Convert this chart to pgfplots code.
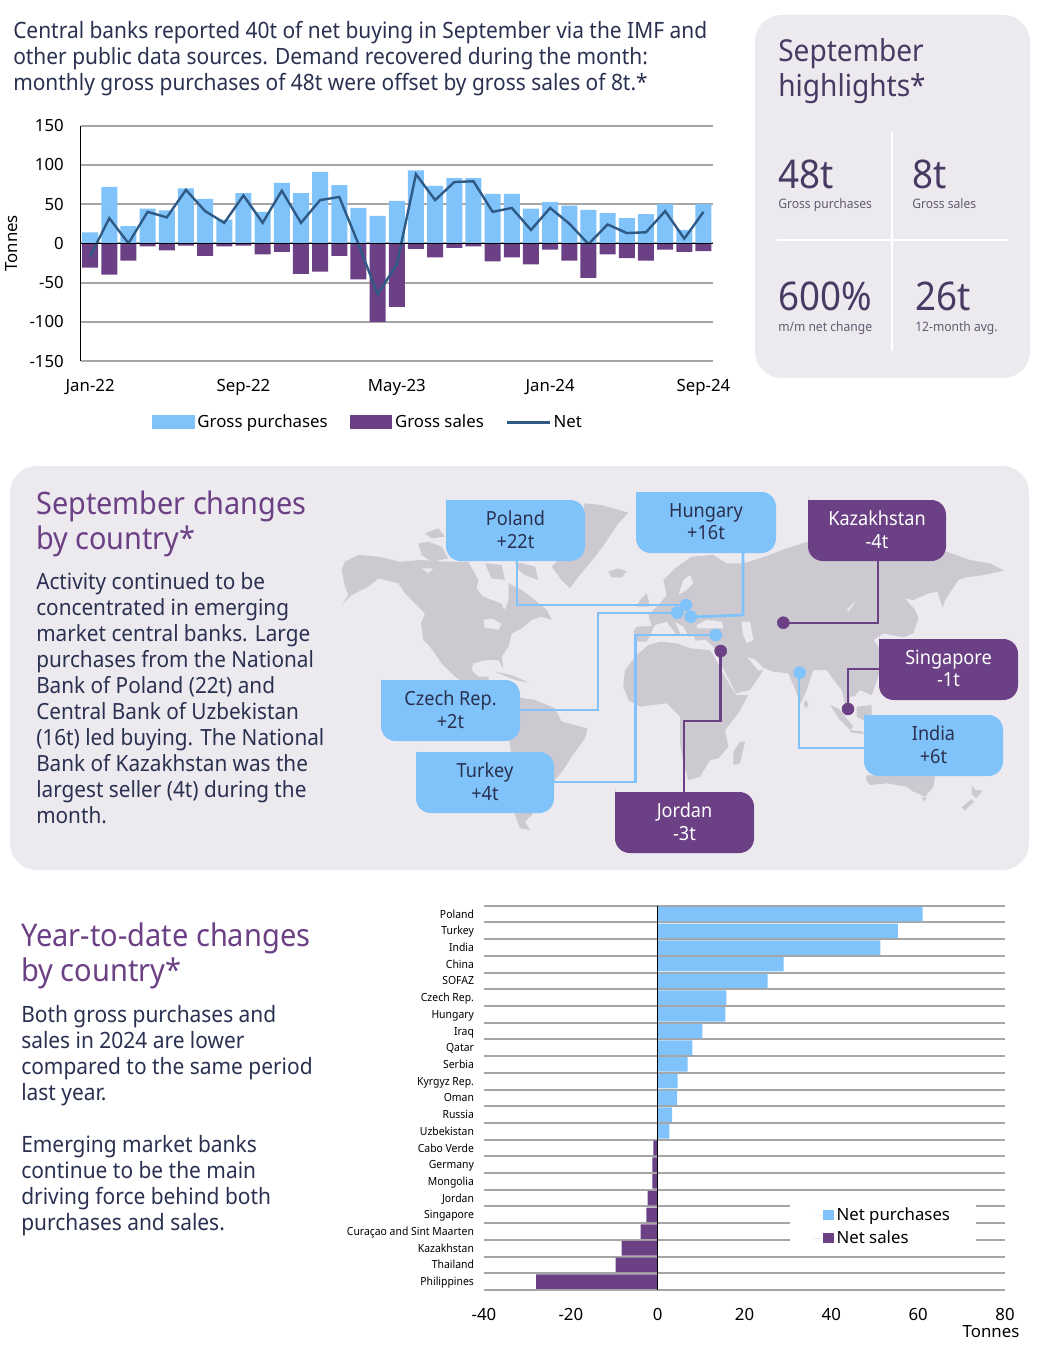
\documentclass[border=0pt]{standalone}
\usepackage{pgfplots}
\pgfplotsset{compat=1.18}
\usepackage{fontspec}
\setmainfont{Noto Sans}
\newfontfamily\lt{Noto Sans}[FakeStretch=0.93]
\definecolor{buy}{HTML}{7FC3FA}
\definecolor{sell}{HTML}{6B4085}
\definecolor{netline}{HTML}{2F5A85}
\definecolor{panel}{HTML}{ECE9EF}
\definecolor{land}{HTML}{CDC9D1}
\definecolor{gridg}{HTML}{A6A6A6}
\definecolor{ink}{HTML}{2A3050}
\definecolor{dk}{HTML}{483A63}
\definecolor{sm}{HTML}{625C70}
% text at page pixels: x, baseline y, size in px, colour, text
\newcommand\T[5]{\pgfmathsetmacro\fs{#3*0.75}\node[anchor=base west,inner sep=0pt,text=#4,font={\lt\fontsize{\fs}{\fs}\selectfont}] at (#1,#2) {#5};}
% callout box: left, top, right, bottom, fill, text colour, line1, line2
\newcommand\B[8]{\fill[#5,rounded corners=11] (#1,#2) [sharp corners] -- (#3-12,#2) [rounded corners=11] -- (#3,#2) -- (#3,#4) -- (#1,#4) -- (#1,#2+11) [sharp corners] -- (#1,#2) -- cycle;
\node[text=#6,align=center,inner sep=0pt,font={\lt\fontsize{14.6}{16.8}\selectfont}] at ({(#1+#3)/2},{(#2+#4)/2-1}) {#7\\#8};}
\begin{document}
\begin{tikzpicture}[x=0.75pt,y=-0.75pt]
\path[use as bounding box] (0,0) rectangle (1038,1352);
\fill[panel,rounded corners=20] (755,15) rectangle (1030,378);
\fill[panel,rounded corners=20] (10,466) rectangle (1029,870);

% top text
\T{13}{39}{22.5}{ink}{Central banks reported 40t of net buying in September via the IMF and}
\T{13}{65}{22.5}{ink}{other public data sources. Demand recovered during the month:}
\T{13}{91}{22.5}{ink}{monthly gross purchases of 48t were offset by gross sales of 8t.*}

% highlights
\T{778}{62}{30.2}{dk}{September}
\T{778}{97}{30.2}{dk}{highlights*}
\T{778}{188}{39.5}{dk}{48t}
\T{912}{188}{39.5}{dk}{8t}
\T{778}{208}{13}{sm}{Gross purchases}
\T{912}{208}{13}{sm}{Gross sales}
\T{778}{310}{39.5}{dk}{600\%}
\T{915}{310}{39.5}{dk}{26t}
\T{778}{331}{13}{sm}{m/m net change}
\T{915}{331}{13}{sm}{12-month avg.}
\draw[white,line width=1.5pt] (891.7,132) -- (891.7,351);
\draw[white,line width=1.5pt] (777,239.7) -- (1008,239.7);

% monthly chart
\begin{axis}[
  at={(60.4pt,-270.75pt)},anchor=south west,
  scale only axis,width=474.4pt,height=176.6pt,
  xmin=-0.5,xmax=32.5,ymin=-150,ymax=150,
  xtick={0,8,16,24,32},
  xticklabels={Jan-22,Sep-22,May-23,Jan-24,Sep-24},
  ytick={-150,-100,-50,0,50,100,150},
  /pgf/number format/assume math mode=true,
  ymajorgrids,
  grid style={gridg,line width=1.5pt},
  axis x line*=bottom,axis y line*=left,
  x axis line style={draw=none},
  y axis line style={black,line width=0.6pt,-},
  tick style={draw=none},
  ticklabel style={font=\fontsize{12.6}{14}\selectfont,text=black},
  xticklabel style={yshift=-10pt},
  yticklabel style={xshift=-9pt},
  ylabel={Tonnes},
  ylabel shift=2pt,
  ylabel style={font=\fontsize{12.6}{14}\selectfont},
  legend columns=3,
  legend cell align=left,
  legend style={at={(0.1128,-0.217)},anchor=north west,draw=none,fill=none,inner sep=0pt,
    font=\fontsize{12.6}{14}\selectfont,
    /tikz/every odd column/.append style={column sep=0pt},
    /tikz/every even column/.append style={column sep=14.5pt}},
]
\addplot[ybar,bar shift=0pt,bar width=12pt,fill=buy,draw=none,
  legend image code/.code={\fill[buy] (0pt,-5.2pt) rectangle (32pt,5.2pt);}] coordinates {
 (0,14)(1,72)(2,22)(3,44)(4,42)(5,70)(6,56.5)(7,30)(8,64)(9,40)(10,77)(11,64)(12,91)
 (13,74)(14,45)(15,35)(16,54)(17,93)(18,73)(19,83)(20,83)(21,63)(22,63)(23,44)(24,52.5)
 (25,48)(26,42.5)(27,38.5)(28,32)(29,37)(30,50)(31,17)(32,50)};
\addlegendentry{Gross purchases}
\addplot[ybar,bar shift=0pt,bar width=12pt,fill=sell,draw=none,
  legend image code/.code={\fill[sell] (0pt,-5.2pt) rectangle (32pt,5.2pt);}] coordinates {
 (0,-31)(1,-40)(2,-22)(3,-4)(4,-9)(5,-3)(6,-16)(7,-4)(8,-3)(9,-14)(10,-11)(11,-39)(12,-36)
 (13,-16)(14,-46)(15,-100)(16,-81)(17,-7)(18,-18)(19,-6)(20,-4)(21,-23)(22,-18)(23,-27)(24,-8)
 (25,-22)(26,-44)(27,-14)(28,-19)(29,-22)(30,-8)(31,-11)(32,-10)};
\addlegendentry{Gross sales}
\addplot[netline,line width=1.8pt,
  legend image code/.code={\draw[netline,line width=1.8pt] (0pt,0pt) -- (32pt,0pt);}] coordinates {
 (0,-17)(1,32)(2,0)(3,40)(4,33)(5,68)(6,41)(7,26)(8,61)(9,26)(10,67)(11,26)(12,55)
 (13,59)(14,-1)(15,-65)(16,-27)(17,88)(18,55)(19,78)(20,79)(21,40)(22,45)(23,17)(24,45)
 (25,25)(26,-1)(27,24)(28,13)(29,14)(30,41)(31,6)(32,40)};
\addlegendentry{Net}
\draw[black,line width=0.8pt] (axis cs:-0.5,0) -- (axis cs:32.5,0);
\end{axis}

% map, western half (crop coordinates, 3 units per pixel)
\begin{axis}[
  at={(251.25pt,-637.5pt)},anchor=south west,scale only axis,width=262.5pt,height=262.5pt,
  xmin=0,xmax=1050,ymin=0,ymax=1050,y dir=reverse,axis lines=none,clip=false,
  every axis plot/.append style={draw=none}]
\addplot[fill=land] coordinates {(20,210)(30,185)(70,165)(130,170)(195,185)(260,180)(330,185)(400,185)(430,240)(425,265)(445,290)(500,310)(510,330)(520,300)(520,250)(560,270)(600,300)(635,330)(650,360)(620,350)(590,360)(560,385)(530,400)(520,440)(500,470)(505,505)(490,480)(450,480)(415,490)(410,510)(430,530)(460,530)(465,560)(400,560)(360,530)(320,490)(285,440)(265,420)(258,370)(270,340)(240,310)(210,280)(190,250)(130,235)(100,260)(50,285)(20,315)(40,285)(30,260)(25,235)} --cycle;
\addplot[fill=panel] coordinates {(425,265)(440,240)(490,235)(520,250)(520,300)(505,325)(500,310)(445,290)} --cycle;
\addplot[fill=panel] coordinates {(445,360)(470,355)(500,372)(490,390)(470,385)(450,385)} --cycle;
\addplot[fill=panel] coordinates {(260,205)(295,205)(280,220)} --cycle;
\addplot[fill=land] coordinates {(250,130)(280,125)(320,140)(340,175)(290,185)(260,165)} --cycle;
\addplot[fill=land] coordinates {(270,100)(310,85)(330,110)(290,115)} --cycle;
\addplot[fill=land] coordinates {(450,190)(500,195)(510,240)(470,235)} --cycle;
\addplot[fill=land] coordinates {(540,185)(600,200)(610,240)(570,225)(545,205)} --cycle;
\addplot[fill=land] coordinates {(650,200)(670,180)(740,130)(748,10)(800,15)(880,38)(850,70)(810,130)(780,170)(730,230)(705,265)(680,240)} --cycle;
\addplot[fill=land] coordinates {(820,215)(850,205)(875,215)(860,232)(830,232)} --cycle;
\addplot[fill=land] coordinates {(540,590)(600,600)(660,625)(680,665)(757,685)(750,715)(710,770)(685,810)(660,840)(620,900)(590,945)(570,965)(585,990)(555,985)(540,945)(535,850)(525,730)(510,680)(520,620)} --cycle;
\addplot[fill=land] coordinates {(480,515)(530,525)(580,548)(540,540)} --cycle;
\addplot[fill=land] coordinates {(915,300)(935,280)(945,320)(905,320)} --cycle;
\end{axis}

% map, eastern half
\begin{axis}[
  at={(487.5pt,-637.5pt)},anchor=south west,scale only axis,width=277.5pt,height=262.5pt,
  xmin=0,xmax=1110,ymin=0,ymax=1050,y dir=reverse,axis lines=none,clip=false,
  every axis plot/.append style={draw=none}]
\addplot[fill=land] coordinates {(-50,395)(-40,380)(5,378)(-5,345)(30,310)(50,285)(40,240)(75,205)(125,170)(190,165)(230,190)(280,190)(330,175)(410,145)(475,125)(600,100)(890,155)(960,180)(1020,190)(1062,212)(1000,225)(950,232)(925,240)(885,300)(878,322)(862,275)(835,280)(790,300)(765,295)(795,330)(805,355)(790,400)(760,412)(700,400)(670,420)(692,450)(690,515)(665,585)(630,570)(612,590)(600,590)(597,630)(585,610)(575,570)(555,545)(530,510)(490,510)(470,570)(452,612)(432,560)(415,520)(370,515)(340,503)(315,478)(290,470)(325,512)(340,510)(300,570)(258,580)(225,515)(200,465)(190,440)(168,420)(135,422)(130,397)(118,412)(100,380)(75,365)(90,400)(80,405)(50,365)(15,375)(5,395)(-10,425)(-40,425)} --cycle;
\addplot[fill=panel] coordinates {(85,285)(100,240)(120,225)(130,250)(110,270)} --cycle;
\addplot[fill=panel] coordinates {(140,375)(170,360)(215,365)(220,385)(170,385)(140,385)} --cycle;
\addplot[fill=panel] coordinates {(275,365)(300,365)(310,420)(290,430)(278,400)} --cycle;
\addplot[fill=panel] coordinates {(590,330)(615,305)(612,312)(595,334)} --cycle;
\addplot[fill=land] coordinates {(-80,560)(-75,510)(-40,465)(-5,435)(30,425)(80,430)(120,445)(180,450)(190,465)(225,530)(258,585)(295,585)(265,640)(225,690)(235,740)(205,775)(180,780)(150,830)(115,840)(100,790)(90,730)(90,650)(50,610)(-30,620)(-65,600)} --cycle;
\addplot[fill=land] coordinates {(270,725)(285,725)(270,790)(250,795)(250,755)} --cycle;
\addplot[fill=land] coordinates {(650,825)(700,828)(770,828)(855,828)(850,860)(825,890)(790,875)(770,860)(710,850)(660,855)(648,840)} --cycle;
\addplot[fill=land] coordinates {(815,892)(830,892)(825,905)} --cycle;
\addplot[fill=land] coordinates {(965,855)(975,870)(998,872)(978,895)(966,882)} --cycle;
\addplot[fill=land] coordinates {(965,897)(972,905)(945,932)(935,922)} --cycle;
\addplot[fill=land] coordinates {(540,615)(565,625)(610,680)(600,690)(570,660)} --cycle;
\addplot[fill=land] coordinates {(600,690)(640,695)(640,702)(600,697)} --cycle;
\addplot[fill=land] coordinates {(620,620)(665,615)(665,650)(640,660)(620,650)} --cycle;
\addplot[fill=land] coordinates {(465,600)(475,610)(470,625)(460,615)} --cycle;
\end{axis}

% connectors and dots, page pixels
\begin{axis}[
  at={(0pt,-1014pt)},anchor=south west,scale only axis,width=778.5pt,height=1014pt,
  xmin=0,xmax=1038,ymin=0,ymax=1352,y dir=reverse,axis lines=none,clip=false]
\addplot[buy,line width=2pt] coordinates {(517,561)(517,605)(686,605)};
\addplot[buy,line width=2pt] coordinates {(520,710)(598,710)(598,613)(677,613)};
\addplot[buy,line width=2pt] coordinates {(743,553)(743,615)(691,617)};
\addplot[buy,line width=2pt] coordinates {(554,782)(635.5,782)(635.5,635)(716,635)};
\addplot[buy,line width=2pt] coordinates {(864,748)(799,748)(799,673)};
\addplot[sell,line width=2pt] coordinates {(684,792)(684,721)(720.5,721)(720.5,651)};
\addplot[sell,line width=2pt] coordinates {(878,561)(878,623)(783,623)};
\addplot[sell,line width=2pt] coordinates {(879,669)(848,669)(848,709)};
\addplot[buy,only marks,mark=*,mark size=4.5pt,mark options={fill=buy,draw=buy}] coordinates {(686,605)(677.3,612.7)(690.7,616.7)(715.7,635)(799.7,672.7)};
\addplot[sell,only marks,mark=*,mark size=4.5pt,mark options={fill=sell,draw=sell}] coordinates {(720.7,651)(783.3,622.7)(848,709)};
\end{axis}

\B{446}{500}{585}{561}{buy}{ink}{Poland}{+22t}
\B{636}{492}{776}{553}{buy}{ink}{Hungary}{+16t}
\B{808}{500}{946}{561}{sell}{white}{Kazakhstan}{-4t}
\B{381}{680}{520}{741}{buy}{ink}{Czech Rep.}{+2t}
\B{416}{752}{554}{813}{buy}{ink}{Turkey}{+4t}
\B{615}{792}{754}{853}{sell}{white}{Jordan}{-3t}
\B{879}{639}{1018}{700}{sell}{white}{Singapore}{-1t}
\B{864}{715}{1003}{776}{buy}{ink}{India}{+6t}

\T{36}{514}{31}{sell}{September changes}
\T{36}{549}{31}{sell}{by country*}
\T{36}{589}{22.3}{ink}{Activity continued to be}
\T{36}{615}{22.3}{ink}{concentrated in emerging}
\T{36}{641}{22.3}{ink}{market central banks. Large}
\T{36}{667.5}{22.3}{ink}{purchases from the National}
\T{36}{693}{22.3}{ink}{Bank of Poland (22t) and}
\T{36}{719}{22.3}{ink}{Central Bank of Uzbekistan}
\T{36}{745}{22.3}{ink}{(16t) led buying. The National}
\T{36}{771}{22.3}{ink}{Bank of Kazakhstan was the}
\T{36}{797}{22.3}{ink}{largest seller (4t) during the}
\T{36}{823}{22.3}{ink}{month.}

\T{21}{946}{31.2}{sell}{Year-to-date changes}
\T{21}{981}{31.2}{sell}{by country*}
\T{21}{1022}{22.5}{ink}{Both gross purchases and}
\T{21}{1048}{22.5}{ink}{sales in 2024 are lower}
\T{21}{1074}{22.5}{ink}{compared to the same period}
\T{21}{1100}{22.5}{ink}{last year.}
\T{21}{1152}{22.5}{ink}{Emerging market banks}
\T{21}{1178}{22.5}{ink}{continue to be the main}
\T{21}{1204}{22.5}{ink}{driving force behind both}
\T{21}{1230}{22.5}{ink}{purchases and sales.}

% year-to-date chart
\begin{axis}[
  at={(363pt,-967.5pt)},anchor=south west,
  scale only axis,width=390.75pt,height=288.2pt,
  xmin=-40,xmax=80,ymin=-0.5,ymax=22.5,y dir=reverse,
  xtick={-40,-20,0,20,40,60,80},
  ytick={0,...,22},
  yticklabels={Poland,Turkey,India,China,SOFAZ,Czech Rep.,Hungary,Iraq,Qatar,Serbia,Kyrgyz Rep.,Oman,Russia,Uzbekistan,Cabo Verde,Germany,Mongolia,Jordan,Singapore,Curaçao and Sint Maarten,Kazakhstan,Thailand,Philippines},
  minor ytick={-0.5,0.5,...,22.5},
  yminorgrids,
  minor grid style={gridg,line width=1.5pt},
  /pgf/number format/assume math mode=true,
  axis line style={draw=none},
  tick style={draw=none},
  minor tick style={draw=none},
  xticklabel style={font=\fontsize{12.6}{14}\selectfont,yshift=-10.5pt},
  yticklabel style={font=\lt\fontsize{8.4}{10}\selectfont,xshift=-4pt,yshift=-0.9pt,text height=6.2pt,text depth=2pt},
  legend cell align=left,
  legend style={at={(rel axis cs:0.5873,0.2394)},anchor=north west,draw=none,fill=white,
    inner xsep=17.25pt,inner ysep=5pt,row sep=2.2pt,font=\fontsize{12.6}{14}\selectfont},
]
\addplot[xbar,bar shift=0pt,bar width=10.9pt,fill=buy,draw=none,
  legend image code/.code={\path (-7.5pt,0pt) -- (0pt,0pt);\fill[buy] (0pt,-4pt) rectangle (8pt,4pt);}] coordinates {
 (61,0)(55.3,1)(51.3,2)(29,3)(25.3,4)(15.8,5)(15.6,6)(10.3,7)(8,8)(6.9,9)(4.6,10)(4.5,11)(3.3,12)(2.7,13)};
\addlegendentry{Net purchases}
\addplot[xbar,bar shift=0pt,bar width=10.9pt,fill=sell,draw=none,
  legend image code/.code={\path (-7.5pt,0pt) -- (0pt,0pt);\fill[sell] (0pt,-4pt) rectangle (8pt,4pt);}] coordinates {
 (-1,14)(-1.2,15)(-1.2,16)(-2.3,17)(-2.6,18)(-3.9,19)(-8.3,20)(-9.7,21)(-28,22)};
\addlegendentry{Net sales}
\draw[black,line width=0.8pt] (axis cs:0,-0.5) -- (axis cs:0,22.5);
\end{axis}
\node[anchor=base,inner sep=0pt,font=\fontsize{12.6}{14}\selectfont] at (991,1337) {Tonnes};
\end{tikzpicture}
\end{document}
